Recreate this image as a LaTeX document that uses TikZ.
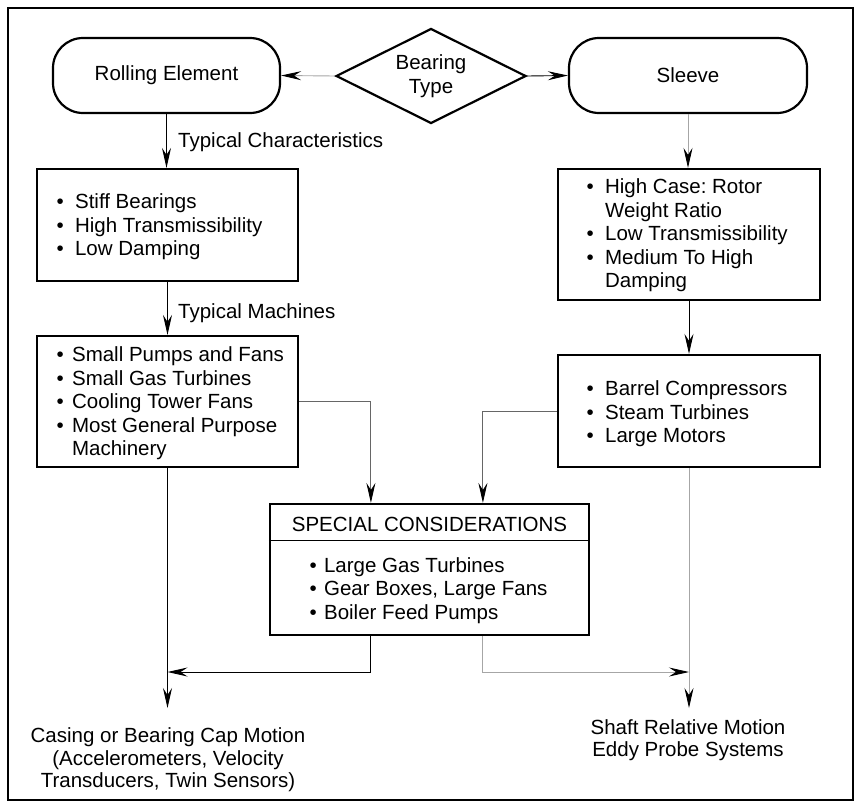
\documentclass[tikz,border=0pt]{standalone}
\usepackage{fontspec}
\setmainfont{Liberation Sans}
\usetikzlibrary{arrows.meta,shapes.geometric,calc}
\frenchspacing
\begin{document}
\begin{tikzpicture}[x=1pt,y=-1pt,
  txt/.style={font=\fontsize{20.5}{23.5}\selectfont, inner sep=0pt, text=black},
  box/.style={draw=black, line width=2.2pt, inner sep=0pt},
  rbox/.style={box, rounded corners=30pt},
  cl/.style={line width=0.9pt, draw=black},
  gl/.style={line width=0.9pt, draw=black!35},
  gm/.style={line width=0.9pt, draw=black!60},
  arr/.style={-{Stealth[length=20pt,width=9pt,inset=7pt,color=black]}},
]
\useasboundingbox (0,0) rectangle (861,806);
\node[draw=black, line width=2.8pt, minimum width=845pt, minimum height=792pt, inner sep=0pt] (frame) at (430.5,404) {};

% top row
\node[rbox, txt, minimum width=227pt, minimum height=75pt] (re) at (166.5,75.5) {Rolling Element};
\node[box, txt, diamond, aspect=2, minimum width=190pt, minimum height=95pt, align=center] (dia) at (431,76) {Bearing\\Type};
\node[rbox, txt, minimum width=238pt, minimum height=75pt] (sl) at (688,75.5) {Sleeve};

% left column
\node[box, minimum width=261pt, minimum height=112pt] (stiff) at (167.5,225) {};
\node[txt, align=left, anchor=west] (stifft) at ($(stiff.west)+(20.4,2)$)
  {\makebox[18.6pt][l]{•}Stiff Bearings\\
   \makebox[18.6pt][l]{•}High Transmissibility\\
   \makebox[18.6pt][l]{•}Low Damping};
\node[box, minimum width=261pt, minimum height=131pt] (pumps) at (167.5,401.5) {};
\node[txt, align=left, anchor=west] (pumpst) at ($(pumps.west)+(20.4,2)$)
  {\makebox[15.6pt][l]{•}Small Pumps and Fans\\
   \makebox[15.6pt][l]{•}Small Gas Turbines\\
   \makebox[15.6pt][l]{•}Cooling Tower Fans\\
   \makebox[15.6pt][l]{•}Most General Purpose\\
   \hspace*{15.6pt}Machinery};

% right column
\node[box, minimum width=262pt, minimum height=131pt] (hc) at (689,234.5) {};
\node[txt, align=left, anchor=west] (hct) at ($(hc.west)+(29.4,1)$)
  {\makebox[18.6pt][l]{•}High Case: Rotor\\
   \hspace*{18.6pt}Weight Ratio\\
   \makebox[18.6pt][l]{•}Low Transmissibility\\
   \makebox[18.6pt][l]{•}Medium To High\\
   \hspace*{18.6pt}Damping};
\node[box, minimum width=262pt, minimum height=112pt] (barrel) at (689,411) {};
\node[txt, align=left, anchor=west] (barrelt) at ($(barrel.west)+(29.4,3)$)
  {\makebox[18.6pt][l]{•}Barrel Compressors\\
   \makebox[18.6pt][l]{•}Steam Turbines\\
   \makebox[18.6pt][l]{•}Large Motors};

% special considerations
\node[box, minimum width=319pt, minimum height=131pt] (sp) at (429.5,569.5) {};
\draw[line width=1pt] ($(sp.north west)+(0,38)$) -- ($(sp.north east)+(0,38)$);
\node[txt] (spt) at (429.5,524) {SPECIAL CONSIDERATIONS};
\node[txt, align=left, anchor=west] (spl) at ($(sp.west)+(40.4,21)$)
  {\makebox[14.6pt][l]{•}Large Gas Turbines\\
   \makebox[14.6pt][l]{•}Gear Boxes, Large Fans\\
   \makebox[14.6pt][l]{•}Boiler Feed Pumps};

% labels
\node[txt, anchor=west] (tc) at (178,142) {Typical Characteristics};
\node[txt, anchor=west] (tm) at (178,313) {Typical Machines};
\node[txt, align=center, font=\fontsize{20.5}{22.5}\selectfont] (casing) at (168,760)
  {Casing or Bearing Cap Motion\\(Accelerometers, Velocity\\Transducers, Twin Sensors)};
\node[txt, align=center, font=\fontsize{20.5}{22.5}\selectfont] (shaft) at (688,740)
  {Shaft Relative Motion\\Eddy Probe Systems};

% coordinates
\coordinate (spin1) at ($(sp.north west)+(102,0)$);
\coordinate (spin2) at ($(sp.north west)+(214,0)$);
\coordinate (spout1) at ($(sp.south west)+(102,0)$);
\coordinate (spout2) at ($(sp.south west)+(214,0)$);
\coordinate (casetop) at (167.5,708);
\coordinate (shafttop) at (689,708);
\coordinate (jl) at (167.5,672);
\coordinate (jr) at (689,672);

% connectors
\draw[gl,arr] (dia.west) -- (re.east);
\draw[cl,arr] (dia.east) -- (sl.west);
\draw[cl,arr] (re.south) -- (re.south |- stiff.north);
\draw[gl,arr] (sl.south) -- (sl.south |- hc.north);
\draw[cl,arr] (stiff.south) -- (pumps.north);
\draw[cl,arr] (hc.south) -- (barrel.north);
\draw[gm,arr] (pumps.east) -| (spin1);
\draw[gm,arr] (barrel.west) -| (spin2);
\draw[cl,arr] (pumps.south) -- (casetop);
\draw[gl,arr] (barrel.south) -- (shafttop);
\draw[cl,arr] (spout1) |- (jl);
\draw[gl,arr] (spout2) |- (jr);
\end{tikzpicture}
\end{document}
